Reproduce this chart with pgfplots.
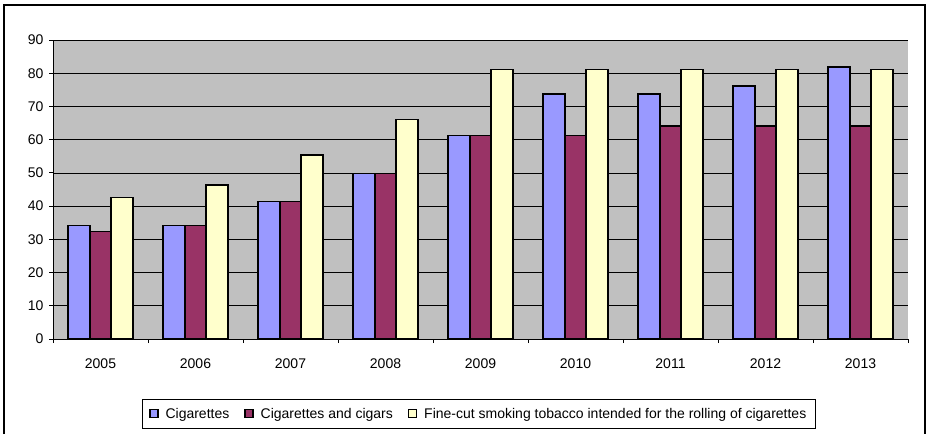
\documentclass[border=0pt]{standalone}
\usepackage{fontspec}
\setmainfont{Liberation Sans}
\usepackage{pgfplots}
\pgfplotsset{compat=1.18}
\definecolor{cigA}{HTML}{9999FF}
\definecolor{cigB}{HTML}{993366}
\definecolor{cigC}{HTML}{FFFFCC}
\definecolor{bgc}{HTML}{C0C0C0}
\begin{document}
\begin{tikzpicture}
\begin{axis}[
  scale only axis, width=855pt, height=299pt,
  xmin=-0.5, xmax=8.5, ymin=0, ymax=90,
  ybar=0pt, bar width=21.5pt,
  axis background/.style={fill=bgc},
  axis x line*=bottom, axis y line*=left,
  axis line style={black, line width=0.8pt},
  ytick={0,10,...,90},
  ymajorgrids, grid style={black, line width=0.7pt},
  xtick={0,...,8},
  xticklabels={2005,2006,2007,2008,2009,2010,2011,2012,2013},
  minor xtick={-0.5,0.5,...,8.5},
  major x tick style={draw=none},
  tick align=outside, major tick length=4pt, minor tick length=4pt,
  tick style={black, line width=0.8pt},
  /pgf/number format/assume math mode=true,
  tick label style={font=\fontsize{14}{16}\selectfont, text=black},
  yticklabel style={xshift=-2pt},
  xticklabel style={yshift=-12pt},
  legend style={at={(0.498,-0.2508)}, anchor=center, draw=black, line width=0.8pt,
    font=\fontsize{14}{16}\selectfont, legend columns=-1, inner xsep=7pt, inner ysep=6.5pt,
    /tikz/every odd column/.append style={column sep=5pt},
    /tikz/every even column/.append style={column sep=13pt}},
  legend image code/.code={\draw[#1, line width=1.3pt, draw=black] (0pt,-3.5pt) rectangle (8pt,4.5pt);},
]
\coordinate (SW) at (rel axis cs:0,0);
\addplot[fill=cigA, draw=black, line width=1.6pt] coordinates {(0,34.2) (1,34.2) (2,41.4) (3,49.8) (4,61.2) (5,73.8) (6,73.8) (7,76.2) (8,81.8)};
\addplot[fill=cigB, draw=black, line width=1.6pt] coordinates {(0,32.4) (1,34.2) (2,41.4) (3,49.8) (4,61.2) (5,61.2) (6,64.1) (7,64.1) (8,64.1)};
\addplot[fill=cigC, draw=black, line width=1.6pt] coordinates {(0,42.6) (1,46.3) (2,55.3) (3,66.1) (4,81.1) (5,81.1) (6,81.1) (7,81.1) (8,81.1)};
\legend{Cigarettes, Cigarettes and cigars, Fine-cut smoking tobacco intended for the rolling of cigarettes}
\end{axis}
\pgfresetboundingbox
\path[use as bounding box] ([shift={(-53pt,-95pt)}]SW) rectangle ([shift={(875pt,339pt)}]SW);
\draw[line width=1.5pt] ([shift={(-49pt,-95pt)}]SW) -- ([shift={(-49pt,334pt)}]SW) -- ([shift={(872pt,334pt)}]SW) -- ([shift={(872pt,-95pt)}]SW);
\end{tikzpicture}
\end{document}
